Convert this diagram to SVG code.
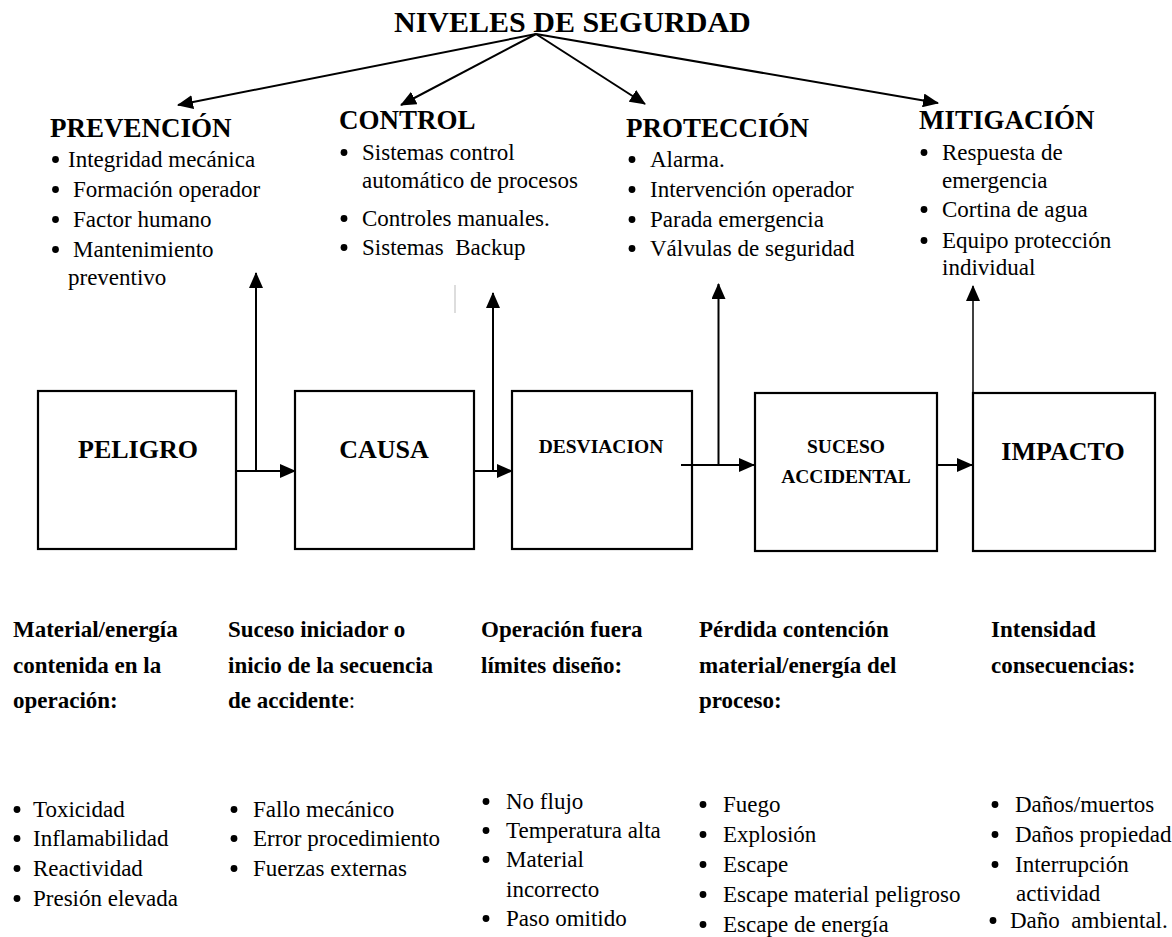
<svg xmlns="http://www.w3.org/2000/svg" width="1172" height="937" viewBox="0 0 1172 937">
<style>
text{font-family:"Liberation Serif","Times New Roman",serif;fill:#000;white-space:pre}
.t{font-size:30px;font-weight:bold}
.h{font-size:27px;font-weight:bold}
.li{font-size:23px}
.bh{font-size:23px;font-weight:bold}
.bl{font-size:26px;font-weight:bold}
.bs{font-size:19.5px;font-weight:bold}
.bx{fill:#fff;stroke:#000;stroke-width:2.2}
.cn line{stroke:#000;stroke-width:2}
</style>
<defs>
<marker id="ah" viewBox="0 0 16 14" refX="15" refY="7" markerWidth="16" markerHeight="14" markerUnits="userSpaceOnUse" orient="auto">
<path d="M0,0 L16,7 L0,14 z" fill="#000"/>
</marker>
</defs>
<rect width="1172" height="937" fill="#fff"/>

<g id="title"><text class="t" x="394" y="32">NIVELES DE SEGURDAD</text></g>

<g id="prevencion">
<text class="h" x="50" y="137">PREVENCIÓN</text>
<circle cx="55.5" cy="159.5" r="3.4"/><text class="li" x="68" y="167">Integridad mecánica</text>
<circle cx="55.5" cy="189.5" r="3.4"/><text class="li" x="73" y="197">Formación operador</text>
<circle cx="55.5" cy="219.5" r="3.4"/><text class="li" x="73" y="227">Factor humano</text>
<circle cx="55.5" cy="249.5" r="3.4"/><text class="li" x="73" y="257">Mantenimiento</text>
<text class="li" x="68" y="285">preventivo</text>
</g>

<g id="control">
<text class="h" x="339" y="129">CONTROL</text>
<circle cx="344" cy="152.5" r="3.4"/><text class="li" x="362" y="160">Sistemas control</text>
<text class="li" x="362" y="188">automático de procesos</text>
<circle cx="344" cy="218.5" r="3.4"/><text class="li" x="362" y="226">Controles manuales.</text>
<circle cx="344" cy="247.5" r="3.4"/><text class="li" x="362" y="255">Sistemas  Backup</text>
</g>

<g id="proteccion">
<text class="h" x="626" y="137">PROTECCIÓN</text>
<circle cx="632" cy="159.5" r="3.4"/><text class="li" x="650" y="167">Alarma.</text>
<circle cx="632" cy="189.5" r="3.4"/><text class="li" x="650" y="197">Intervención operador</text>
<circle cx="632" cy="219.5" r="3.4"/><text class="li" x="650" y="227">Parada emergencia</text>
<circle cx="632" cy="248.5" r="3.4"/><text class="li" x="650" y="256">Válvulas de seguridad</text>
</g>

<g id="mitigacion">
<text class="h" x="919" y="129">MITIGACIÓN</text>
<circle cx="924" cy="152.5" r="3.4"/><text class="li" x="942" y="160">Respuesta de</text>
<text class="li" x="942" y="188">emergencia</text>
<circle cx="924" cy="209.5" r="3.4"/><text class="li" x="942" y="217">Cortina de agua</text>
<circle cx="924" cy="240.5" r="3.4"/><text class="li" x="942" y="248">Equipo protección</text>
<text class="li" x="942" y="275">individual</text>
</g>

<line x1="455" y1="285" x2="455" y2="313" stroke="#bbb" stroke-width="1"/>

<g id="peligro">
<rect class="bx" x="38" y="391" width="198" height="158"/>
<text class="bl" x="138" y="458" text-anchor="middle">PELIGRO</text>
</g>
<g id="causa">
<rect class="bx" x="295" y="391" width="179" height="158"/>
<text class="bl" x="384" y="458" text-anchor="middle">CAUSA</text>
</g>
<g id="desviacion">
<rect class="bx" x="512" y="391" width="180" height="158"/>
<text class="bs" x="601" y="453" text-anchor="middle" font-size="20">DESVIACION</text>
</g>
<g id="suceso">
<rect class="bx" x="755" y="393" width="182" height="158"/>
<text class="bs" x="846" y="453" text-anchor="middle">SUCESO</text>
<text class="bs" x="846" y="483" text-anchor="middle" font-size="19">ACCIDENTAL</text>
</g>
<g id="impacto">
<rect class="bx" x="973" y="393" width="182" height="158"/>
<text class="bl" x="1063" y="460" text-anchor="middle">IMPACTO</text>
</g>

<g id="connectors" class="cn">
<line x1="536" y1="34" x2="178" y2="105" marker-end="url(#ah)"/>
<line x1="536" y1="34" x2="401" y2="105" marker-end="url(#ah)"/>
<line x1="536" y1="34" x2="645" y2="104" marker-end="url(#ah)"/>
<line x1="536" y1="34" x2="938" y2="103" marker-end="url(#ah)"/>
<line x1="236" y1="471" x2="295" y2="471" marker-end="url(#ah)"/>
<line x1="256" y1="471" x2="256" y2="273" marker-end="url(#ah)"/>
<line x1="474" y1="471" x2="512" y2="471" marker-end="url(#ah)"/>
<line x1="493" y1="471" x2="493" y2="293" marker-end="url(#ah)"/>
<line x1="681" y1="465" x2="754" y2="465" marker-end="url(#ah)"/>
<line x1="718.5" y1="465" x2="718.5" y2="284" marker-end="url(#ah)"/>
<line x1="937" y1="465" x2="972" y2="465" marker-end="url(#ah)"/>
<line x1="973" y1="393" x2="973" y2="286" marker-end="url(#ah)" style="stroke-width:1.5"/>
</g>

<g id="col-peligro">
<text class="bh" x="13" y="637">Material/energía</text>
<text class="bh" x="13" y="673">contenida en la</text>
<text class="bh" x="13" y="708">operación:</text>
<circle cx="17" cy="809.5" r="3.4"/><text class="li" x="33" y="817">Toxicidad</text>
<circle cx="17" cy="838.5" r="3.4"/><text class="li" x="33" y="846">Inflamabilidad</text>
<circle cx="17" cy="868.5" r="3.4"/><text class="li" x="33" y="876">Reactividad</text>
<circle cx="17" cy="898.5" r="3.4"/><text class="li" x="33" y="906">Presión elevada</text>
</g>

<g id="col-causa">
<text class="bh" x="228" y="637">Suceso iniciador o</text>
<text class="bh" x="228" y="673">inicio de la secuencia</text>
<text x="228" y="708" class="bh">de accidente<tspan font-weight="normal">:</tspan></text>
<circle cx="234" cy="809.5" r="3.4"/><text class="li" x="253" y="817">Fallo mecánico</text>
<circle cx="234" cy="838.5" r="3.4"/><text class="li" x="253" y="846">Error procedimiento</text>
<circle cx="234" cy="868.5" r="3.4"/><text class="li" x="253" y="876">Fuerzas externas</text>
</g>

<g id="col-desviacion">
<text class="bh" x="481" y="637">Operación fuera</text>
<text class="bh" x="481" y="673">límites diseño:</text>
<circle cx="486" cy="801.5" r="3.4"/><text class="li" x="506" y="809">No flujo</text>
<circle cx="486" cy="830.5" r="3.4"/><text class="li" x="506" y="838">Temperatura alta</text>
<circle cx="486" cy="859.5" r="3.4"/><text class="li" x="506" y="867">Material</text>
<text class="li" x="506" y="897">incorrecto</text>
<circle cx="486" cy="918.5" r="3.4"/><text class="li" x="506" y="926">Paso omitido</text>
</g>

<g id="col-suceso">
<text class="bh" x="699" y="637">Pérdida contención</text>
<text class="bh" x="699" y="673">material/energía del</text>
<text class="bh" x="699" y="708">proceso:</text>
<circle cx="703" cy="804.5" r="3.4"/><text class="li" x="723" y="812">Fuego</text>
<circle cx="703" cy="834.5" r="3.4"/><text class="li" x="723" y="842">Explosión</text>
<circle cx="703" cy="864.5" r="3.4"/><text class="li" x="723" y="872">Escape</text>
<circle cx="703" cy="894.5" r="3.4"/><text class="li" x="723" y="902">Escape material peligroso</text>
<circle cx="703" cy="924.5" r="3.4"/><text class="li" x="723" y="932">Escape de energía</text>
</g>

<g id="col-impacto">
<text class="bh" x="991" y="637">Intensidad</text>
<text class="bh" x="991" y="673">consecuencias:</text>
<circle cx="995" cy="804.5" r="3.4"/><text class="li" x="1015" y="812">Daños/muertos</text>
<circle cx="995" cy="834.5" r="3.4"/><text class="li" x="1015" y="842">Daños propiedad</text>
<circle cx="995" cy="864.5" r="3.4"/><text class="li" x="1015" y="872">Interrupción</text>
<text class="li" x="1016" y="901">actividad</text>
<circle cx="993" cy="920.5" r="3.4"/><text class="li" x="1010" y="928">Daño  ambiental.</text>
</g>
</svg>
